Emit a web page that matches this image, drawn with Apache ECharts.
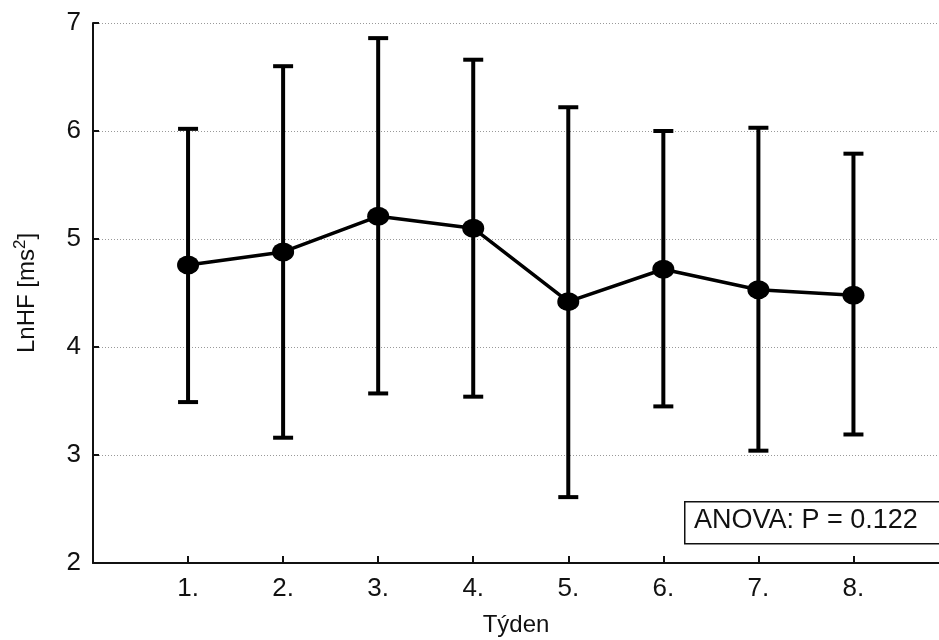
<!DOCTYPE html>
<html>
<head>
<meta charset="utf-8">
<script src="https://cdn.jsdelivr.net/npm/echarts@6/dist/echarts.min.js"></script>
<style>
html,body{margin:0;padding:0;background:#fff;}
#chart{width:939px;height:640px;}
</style>
</head>
<body>
<div id="chart"></div>
<script>
const categories = ['1.', '2.', '3.', '4.', '5.', '6.', '7.', '8.'];
const meanValues = [4.76, 4.88, 5.21, 5.10, 4.42, 4.72, 4.53, 4.48];
const upperValues = [6.02, 6.60, 6.86, 6.66, 6.22, 6.00, 6.03, 5.79];
const lowerValues = [3.49, 3.16, 3.57, 3.54, 2.61, 3.45, 3.04, 3.19];
const yTickValues = [2, 3, 4, 5, 6, 7];
const yAxisTitle = 'LnHF [ms{sup|2}]';
const xAxisTitle = 'Týden';
const annotationText = 'ANOVA: P = 0.122';

const positions = categories.map((c, i) => i + 1);
const meanData = positions.map((x, i) => [x, meanValues[i]]);
const errData = positions.map((x, i) => [x, lowerValues[i], upperValues[i]]);

const FONT = 'Liberation Sans, Arial, sans-serif';
const chart = echarts.init(document.getElementById('chart'), null, {renderer: 'canvas'});

chart.setOption({
  animation: false,
  backgroundColor: '#fff',
  grid: {left: 93, right: 0, top: 23, bottom: 77, containLabel: false, outerBoundsMode: 'none'},
  xAxis: {
    type: 'value',
    min: 0,
    max: 8.9,
    interval: 1,
    name: xAxisTitle,
    nameLocation: 'middle',
    nameGap: 50,
    nameTextStyle: {fontFamily: FONT, fontSize: 24, color: '#111'},
    axisLine: {onZero: false, lineStyle: {color: '#111', width: 2}},
    axisTick: {show: true, inside: true, length: 7, customValues: positions, lineStyle: {color: '#111', width: 2}},
    axisLabel: {
      customValues: positions,
      formatter: v => categories[Math.round(v) - 1] || '',
      fontFamily: FONT, fontSize: 26, color: '#111', margin: 13
    },
    splitLine: {show: false}
  },
  yAxis: {
    type: 'value',
    min: 2,
    max: 7,
    interval: 1,
    name: yAxisTitle,
    nameLocation: 'middle',
    nameRotate: 90,
    nameGap: 50,
    nameTextStyle: {
      fontFamily: FONT, fontSize: 24, color: '#111',
      rich: {
        sup: {fontFamily: FONT, fontSize: 17, color: '#111', padding: [0, 0, 14, 0]}
      }
    },
    axisLine: {show: true, lineStyle: {color: '#111', width: 2}},
    axisTick: {show: true, inside: true, length: 6, customValues: yTickValues, lineStyle: {color: '#111', width: 2}},
    axisLabel: {
      customValues: yTickValues,
      fontFamily: FONT, fontSize: 26, color: '#111', margin: 12
    },
    splitLine: {show: true, lineStyle: {color: '#999', width: 1, type: [1, 2]}}
  },
  series: [
    {
      type: 'custom',
      data: errData,
      z: 2,
      renderItem: function (params, api) {
        const x = api.value(0);
        const lo = api.coord([x, api.value(1)]);
        const hi = api.coord([x, api.value(2)]);
        const hw = 10;
        const st = {stroke: '#000', lineWidth: 4};
        return {
          type: 'group',
          children: [
            {type: 'line', shape: {x1: lo[0], y1: lo[1], x2: hi[0], y2: hi[1]}, style: st},
            {type: 'line', shape: {x1: hi[0] - hw, y1: hi[1], x2: hi[0] + hw, y2: hi[1]}, style: st},
            {type: 'line', shape: {x1: lo[0] - hw, y1: lo[1], x2: lo[0] + hw, y2: lo[1]}, style: st}
          ]
        };
      }
    },
    {
      type: 'line',
      data: meanData,
      z: 3,
      symbol: 'circle',
      symbolSize: [22, 19],
      lineStyle: {color: '#000', width: 3.5},
      itemStyle: {color: '#000'}
    }
  ],
  graphic: [
    {
      type: 'rect',
      left: 684,
      top: 501,
      shape: {width: 270, height: 42},
      style: {fill: '#fff', stroke: '#111', lineWidth: 1.5},
      z: 100
    },
    {
      type: 'text',
      left: 694,
      top: 507,
      style: {text: annotationText, fontFamily: FONT, fontSize: 27, fill: '#111'},
      z: 101
    }
  ]
});
</script>
</body>
</html>
